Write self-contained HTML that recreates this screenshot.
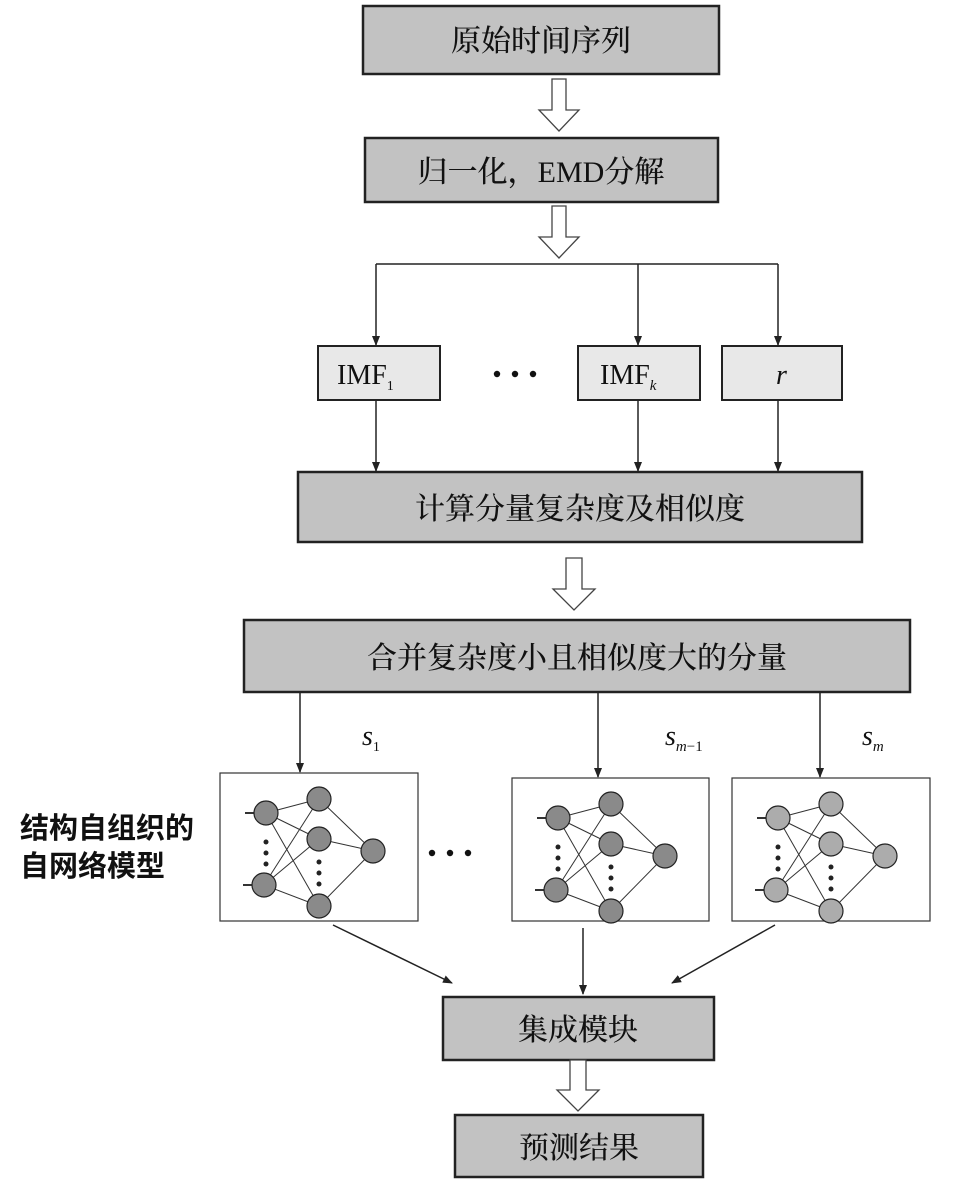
<!DOCTYPE html>
<html><head><meta charset="utf-8"><style>
html,body{margin:0;padding:0;background:#fff}
svg text{font-family:"Liberation Serif","Noto Serif CJK SC",serif;fill:#111}
</style></head><body>
<svg width="955" height="1197" viewBox="0 0 955 1197" xmlns="http://www.w3.org/2000/svg">
<defs>
<marker id="ah" markerWidth="10" markerHeight="10" refX="9" refY="5" orient="auto" markerUnits="userSpaceOnUse">
<path d="M0,1 L10,5 L0,9 Z" fill="#222"/></marker>
<g id="nn">
<g stroke="#333" stroke-width="1" fill="none">
<line x1="46" y1="40" x2="99" y2="26"/><line x1="46" y1="40" x2="99" y2="66"/><line x1="46" y1="40" x2="99" y2="133"/>
<line x1="44" y1="112" x2="99" y2="26"/><line x1="44" y1="112" x2="99" y2="66"/><line x1="44" y1="112" x2="99" y2="133"/>
<line x1="99" y1="26" x2="153" y2="78"/><line x1="99" y1="66" x2="153" y2="78"/><line x1="99" y1="133" x2="153" y2="78"/>
<line x1="25" y1="40" x2="36" y2="40" stroke-width="2"/><line x1="23" y1="112" x2="34" y2="112" stroke-width="2"/>
</g>
<g fill="#222"><circle cx="46" cy="69" r="2.5"/><circle cx="46" cy="80" r="2.5"/><circle cx="46" cy="91" r="2.5"/>
<circle cx="99" cy="89" r="2.5"/><circle cx="99" cy="100" r="2.5"/><circle cx="99" cy="111" r="2.5"/></g>
</g>
</defs>
<g stroke="#222" stroke-width="2.5" fill="#c2c2c2">
<rect x="363" y="6" width="356" height="68"/>
<rect x="365" y="138" width="353" height="64"/>
<rect x="298" y="472" width="564" height="70"/>
<rect x="244" y="620" width="666" height="72"/>
<rect x="443" y="997" width="271" height="63"/>
<rect x="455" y="1115" width="248" height="62"/>
</g>
<g stroke="#222" stroke-width="2" fill="#e8e8e8">
<rect x="318" y="346" width="122" height="54"/>
<rect x="578" y="346" width="122" height="54"/>
<rect x="722" y="346" width="120" height="54"/>
</g>
<g stroke="#444" stroke-width="1.3" fill="#fff">
<path d="M552,79 H566 V110 H579 L559,131 L539,110 H552 Z"/>
<path d="M552,206 H566 V237 H579 L559,258 L539,237 H552 Z"/>
<path d="M566,558 H582 V589 H595 L574,610 L553,589 H566 Z"/>
<path d="M570,1060 H586 V1090 H599 L578,1111 L557,1090 H570 Z"/>
</g>
<g stroke="#222" stroke-width="1.5" fill="none">
<line x1="376" y1="264" x2="778" y2="264"/>
<line x1="376" y1="264" x2="376" y2="345" marker-end="url(#ah)"/>
<line x1="638" y1="264" x2="638" y2="345" marker-end="url(#ah)"/>
<line x1="778" y1="264" x2="778" y2="345" marker-end="url(#ah)"/>
<line x1="376" y1="400" x2="376" y2="471" marker-end="url(#ah)"/>
<line x1="638" y1="400" x2="638" y2="471" marker-end="url(#ah)"/>
<line x1="778" y1="400" x2="778" y2="471" marker-end="url(#ah)"/>
<line x1="300" y1="692" x2="300" y2="772" marker-end="url(#ah)"/>
<line x1="598" y1="692" x2="598" y2="777" marker-end="url(#ah)"/>
<line x1="820" y1="692" x2="820" y2="777" marker-end="url(#ah)"/>
<line x1="333" y1="925" x2="452" y2="983" marker-end="url(#ah)"/>
<line x1="583" y1="928" x2="583" y2="994" marker-end="url(#ah)"/>
<line x1="775" y1="925" x2="672" y2="983" marker-end="url(#ah)"/>
</g>
<g stroke="#333" stroke-width="1.2" fill="#fff">
<rect x="220" y="773" width="198" height="148"/>
<rect x="512" y="778" width="197" height="143"/>
<rect x="732" y="778" width="198" height="143"/>
</g>
<g><use href="#nn" x="220" y="773"/></g>
<g transform="translate(512,778)"><use href="#nn"/></g>
<g transform="translate(732,778)"><use href="#nn"/></g>
<g stroke="#222" stroke-width="1.2">
<g fill="#8a8a8a"><circle cx="266" cy="813" r="12"/><circle cx="264" cy="885" r="12"/><circle cx="319" cy="799" r="12"/><circle cx="319" cy="839" r="12"/><circle cx="319" cy="906" r="12"/><circle cx="373" cy="851" r="12"/></g>
<g fill="#8a8a8a" transform="translate(292,5)"><circle cx="266" cy="813" r="12"/><circle cx="264" cy="885" r="12"/><circle cx="319" cy="799" r="12"/><circle cx="319" cy="839" r="12"/><circle cx="319" cy="906" r="12"/><circle cx="373" cy="851" r="12"/></g>
<g fill="#acacac" transform="translate(512,5)"><circle cx="266" cy="813" r="12"/><circle cx="264" cy="885" r="12"/><circle cx="319" cy="799" r="12"/><circle cx="319" cy="839" r="12"/><circle cx="319" cy="906" r="12"/><circle cx="373" cy="851" r="12"/></g>
</g>
<g fill="#111"><circle cx="497" cy="374" r="3.2"/><circle cx="515" cy="374" r="3.2"/><circle cx="533" cy="374" r="3.2"/>
<circle cx="432" cy="853" r="3.2"/><circle cx="450" cy="853" r="3.2"/><circle cx="468" cy="853" r="3.2"/></g>
<g font-size="30" text-anchor="middle" font-weight="500">
<text x="541" y="51">原始时间序列</text>
<text x="541" y="182">归一化，EMD分解</text>
<text x="580" y="519">计算分量复杂度及相似度</text>
<text x="577" y="668">合并复杂度小且相似度大的分量</text>
<text x="578" y="1040">集成模块</text>
<text x="579" y="1158">预测结果</text>
</g>
<g font-size="28">
<text x="337" y="384">IMF<tspan font-size="14" dy="6">1</tspan></text>
<text x="600" y="384">IMF<tspan font-size="15" font-style="italic" dy="6">k</tspan></text>
<text x="776" y="384" font-style="italic">r</text>
<text x="362" y="745" font-style="italic">s<tspan font-size="14" font-style="normal" dy="6">1</tspan></text>
<text x="665" y="745" font-style="italic">s<tspan font-size="15" dy="6">m</tspan><tspan font-size="15" font-style="normal">−1</tspan></text>
<text x="862" y="745" font-style="italic">s<tspan font-size="15" dy="6">m</tspan></text>
</g>
<g font-size="29" font-weight="bold">
<text x="20" y="838" style="font-family:'Liberation Sans','Noto Sans CJK SC',sans-serif">结构自组织的</text>
<text x="20" y="876" style="font-family:'Liberation Sans','Noto Sans CJK SC',sans-serif">自网络模型</text>
</g>
</svg>
</body></html>
